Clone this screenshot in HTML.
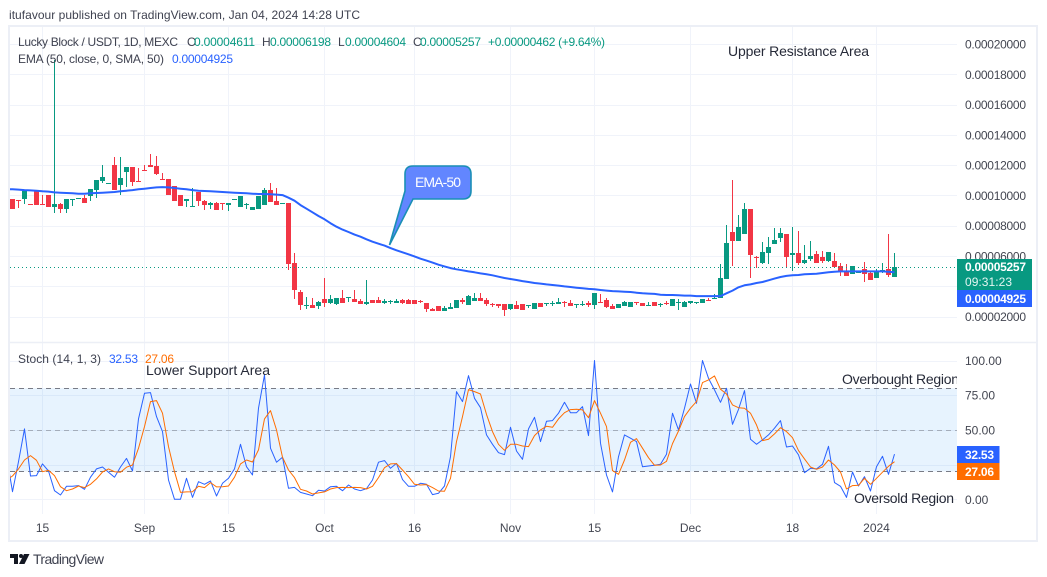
<!DOCTYPE html>
<html lang="en">
<head>
<meta charset="utf-8">
<title>Lucky Block / USDT chart</title>
<style>
html,body{margin:0;padding:0;background:#fff;width:1047px;height:577px;overflow:hidden}
svg{display:block;font-family:"Liberation Sans",sans-serif}
</style>
</head>
<body>
<svg id="chart" xmlns="http://www.w3.org/2000/svg" width="1047" height="577" viewBox="0 0 1047 577">
  <defs>
    <clipPath id="clip-main"><rect x="10" y="27" width="947" height="315"/></clipPath>
    <clipPath id="clip-stoch"><rect x="10" y="343" width="947" height="171"/></clipPath>
  </defs>
  <rect x="0" y="0" width="1047" height="577" fill="#ffffff"/>
  <text x="9" y="19" font-size="12" fill="#3f4250" textLength="351">itufavour published on TradingView.com, Jan 04, 2024 14:28 UTC</text>
  <g id="grid"></g>
  <g id="stoch-band"></g>
  <g id="candles" clip-path="url(#clip-main)"></g>
  <g id="ema" clip-path="url(#clip-main)"></g>
  <g id="stoch-lines" clip-path="url(#clip-stoch)"></g>
  <rect x="9" y="26" width="1028" height="515" fill="none" stroke="#eceff6" stroke-width="2"/>
  <line x1="9" y1="342.5" x2="1037" y2="342.5" stroke="#eceff6" stroke-width="1.5"/>

  <g font-size="12">
    <text x="18" y="46" fill="#3f4250" textLength="160">Lucky Block / USDT, 1D, MEXC</text>
    <text x="187" y="46" fill="#3f4250">O</text>
    <text x="194" y="46" fill="#089981" textLength="61">0.00004611</text>
    <text x="262" y="46" fill="#3f4250">H</text>
    <text x="270" y="46" fill="#089981" textLength="61">0.00006198</text>
    <text x="338" y="46" fill="#3f4250">L</text>
    <text x="345" y="46" fill="#089981" textLength="61">0.00004604</text>
    <text x="413" y="46" fill="#3f4250">C</text>
    <text x="420" y="46" fill="#089981" textLength="61">0.00005257</text>
    <text x="488" y="46" fill="#089981" textLength="117">+0.00000462 (+9.64%)</text>
    <text x="18" y="63" fill="#3f4250" textLength="146">EMA (50, close, 0, SMA, 50)</text>
    <text x="172" y="63" fill="#2962ff" textLength="61">0.00004925</text>
  </g>

  <text x="728" y="56" font-size="14" fill="#262a38" textLength="141">Upper Resistance Area</text>
  <g>
    <path d="M413 166 H463 Q471 166 471 174 V191 Q471 199 463 199 H413 L389.5 245 L405 191 V174 Q405 166 413 166 Z" fill="#6286ff" stroke="#1a8fb5" stroke-width="1.6"/>
    <text x="415" y="187" font-size="14" fill="#ffffff" textLength="46">EMA-50</text>
  </g>

  <g font-size="12">
    <text x="18" y="363" fill="#3f4250" textLength="83">Stoch (14, 1, 3)</text>
    <text x="109" y="363" fill="#2962ff" textLength="29">32.53</text>
    <text x="145" y="363" fill="#ff6d00" textLength="29">27.06</text>
  </g>
  <text x="146" y="375" font-size="14" fill="#262a38" textLength="124">Lower Support Area</text>
  <g clip-path="url(#clip-stoch)">
    <text x="842" y="384" font-size="14" fill="#262a38" textLength="117">Overbought Region</text>
  </g>
  <text x="854" y="503" font-size="14" fill="#262a38" textLength="100">Oversold Region</text>

  <g id="price-axis" font-size="12" fill="#434651"></g>
  <g id="stoch-axis" font-size="12" fill="#434651"></g>
  <g id="time-axis" font-size="12" fill="#434651"></g>

  <g>
    <rect x="957" y="259" width="75" height="31" fill="#089981"/>
    <text x="965" y="271" font-size="12" font-weight="bold" fill="#ffffff" textLength="61">0.00005257</text>
    <text x="965" y="286" font-size="12" fill="#e4f5f1" textLength="47">09:31:23</text>
    <rect x="957" y="290" width="75" height="17" fill="#2962ff"/>
    <text x="965" y="303" font-size="12" font-weight="bold" fill="#ffffff" textLength="61">0.00004925</text>
  </g>
  <g>
    <rect x="957" y="446" width="42.5" height="17" fill="#2962ff"/>
    <text x="965" y="459" font-size="12" font-weight="bold" fill="#ffffff" textLength="29">32.53</text>
    <rect x="957" y="463" width="42.5" height="17" fill="#ff6d00"/>
    <text x="965" y="476" font-size="12" font-weight="bold" fill="#ffffff" textLength="29">27.06</text>
  </g>

  <g>
    <path d="M10 554 H18 V564 H14 V558 H10 Z M19 564 L24 554 H29.5 L24.5 564 Z" fill="#131722"/>
    <circle cx="21" cy="556" r="2" fill="#131722"/>
    <text x="33" y="564" font-size="14" fill="#3f4250" textLength="71">TradingView</text>
  </g>
</svg>
<script>
// All prices in units of 0.00001 USDT. Index 0 = 10 Aug 2023.
const opens = [
9.76,9.67,9.76,9.43,10.29,9.43,10.02,9.23,9.43,9.10,
9.69,9.76,9.83,9.96,10.35,10.95,10.77,12.01,10.69,11.54,
11.87,10.95,11.68,12.01,11.94,11.08,11.08,10.62,10.02,9.63,
9.23,10.22,9.63,9.36,9.50,9.50,9.36,9.69,9.23,9.36,
9.03,9.10,9.36,10.35,9.63,9.43,9.50,5.53,3.62,2.69,
2.76,2.69,3.16,2.89,2.83,3.22,3.22,3.16,3.02,2.83,
3.09,3.09,2.89,2.96,2.89,3.09,3.09,3.09,3.02,2.89,
2.50,2.69,2.36,2.50,2.56,3.09,2.76,3.02,3.22,3.09,
2.83,2.83,2.83,2.50,2.76,2.83,2.69,2.50,2.89,2.83,
2.83,2.83,2.96,2.89,2.76,2.76,2.89,2.76,2.96,3.09,
2.69,2.56,2.69,2.63,2.96,2.89,2.69,2.96,2.76,2.89,
2.69,2.89,2.63,2.89,2.89,2.89,3.09,3.15,3.22,4.48,
7.58,6.99,7.45,9.10,5.93,5.53,6.19,6.79,7.19,7.45,
6.06,6.19,5.53,5.80,6.13,5.93,5.67,5.67,5.34,5.00,
4.81,4.87,5.14,4.87,4.54,5.00,5.14,4.611];
const highs = [
9.76,9.67,10.29,9.43,10.29,10.02,10.02,18.94,9.50,9.76,
9.76,9.83,10.02,10.42,11.02,12.01,10.82,12.53,12.53,11.87,
11.87,11.81,12.01,12.73,12.60,11.48,11.08,10.62,10.02,9.76,
10.49,10.22,9.69,9.56,9.56,9.50,9.50,9.76,9.96,9.50,
9.23,9.96,10.49,10.82,10.49,9.50,9.50,6.19,3.75,3.29,
3.22,3.03,4.54,3.42,3.22,3.75,3.29,3.75,3.16,4.41,
3.09,3.29,3.16,3.09,3.16,3.16,3.16,3.09,3.09,2.89,
2.56,2.69,2.69,2.89,3.09,3.22,3.42,3.55,3.55,3.22,
2.89,2.83,2.83,2.83,3.02,2.83,2.76,2.89,2.89,2.89,
3.02,3.22,3.02,3.09,2.83,3.02,3.02,3.55,3.49,3.22,
2.83,2.83,3.02,2.96,2.96,2.89,2.96,2.96,2.89,3.02,
3.15,3.15,3.02,3.02,2.96,3.15,3.22,3.48,5.47,8.04,
11.02,8.70,9.50,9.10,5.99,6.92,7.25,7.85,7.85,7.45,
7.91,7.65,6.72,7.00,6.33,6.33,6.26,6.19,5.53,5.47,
5.34,5.00,5.60,5.00,5.14,5.53,7.45,6.198];
const lows = [
9.12,9.19,9.45,9.36,9.36,9.36,9.23,8.84,8.84,8.84,
9.30,9.76,9.50,9.63,9.83,10.82,10.77,10.35,10.02,10.55,
10.62,10.88,11.61,11.87,11.35,11.02,10.02,9.63,9.30,9.23,
9.23,9.30,9.03,9.10,9.03,9.03,8.97,9.69,9.23,9.10,
9.03,9.10,9.36,9.56,9.36,9.43,5.07,3.16,2.43,2.49,
2.56,2.49,2.63,2.83,2.76,2.89,2.96,2.96,2.83,2.76,
2.89,2.89,2.83,2.83,2.89,2.83,2.83,2.83,2.89,2.30,
2.36,2.36,2.36,2.50,2.56,2.83,2.76,3.02,3.02,2.69,
2.63,2.56,2.03,2.43,2.50,2.43,2.56,2.50,2.63,2.69,
2.69,2.83,2.63,2.69,2.56,2.69,2.63,2.50,2.89,2.56,
2.50,2.56,2.69,2.63,2.76,2.69,2.69,2.69,2.63,2.76,
2.69,2.43,2.63,2.83,2.83,2.89,3.02,3.15,3.22,4.48,
5.34,6.99,7.45,4.54,5.20,5.47,5.47,6.79,6.92,5.20,
5.00,5.40,5.47,5.67,5.53,5.53,5.60,5.20,4.68,4.68,
4.81,4.87,4.28,4.41,4.54,4.87,4.61,4.604];
const closes = [
9.12,9.63,10.29,9.36,9.36,9.36,9.23,9.43,9.10,9.76,
9.76,9.83,9.50,10.42,11.02,11.21,10.82,10.35,11.15,11.87,
10.88,10.88,11.61,11.87,11.41,11.02,10.02,9.63,9.30,9.76,
9.30,9.63,9.36,9.50,9.03,9.43,9.50,9.76,9.96,9.43,
9.23,9.96,10.35,9.56,9.36,9.50,5.47,3.75,2.76,2.76,
2.56,2.96,2.89,3.16,3.22,2.89,3.29,2.96,2.83,2.96,
2.89,2.89,3.02,3.02,3.02,2.89,2.83,2.83,2.96,2.50,
2.36,2.36,2.56,2.63,3.09,2.96,3.36,3.22,3.02,2.83,
2.76,2.69,2.43,2.83,2.50,2.43,2.76,2.89,2.63,2.89,
2.89,2.96,2.89,2.69,2.83,2.83,2.76,3.55,2.89,2.63,
2.50,2.83,2.96,2.96,2.89,2.69,2.76,2.69,2.83,2.83,
3.15,2.96,2.96,3.02,2.96,3.15,3.02,3.22,4.54,6.85,
6.99,7.91,9.10,6.06,5.86,6.26,6.59,7.05,7.52,5.93,
6.19,5.53,5.73,5.99,5.53,5.67,6.26,5.27,5.00,4.68,
5.34,5.00,4.81,4.41,5.00,5.07,4.74,5.257];
// Line series carry one leading value: the day just before the visible window.
const emaValues = [10.41,
10.40,10.38,10.35,10.33,10.31,10.27,10.25,10.20,10.18,10.16,
10.14,10.11,10.11,10.14,10.16,10.18,10.20,10.22,10.27,10.31,
10.35,10.40,10.44,10.49,10.53,10.55,10.53,10.49,10.44,10.40,
10.35,10.31,10.29,10.27,10.25,10.22,10.20,10.18,10.16,10.14,
10.11,10.09,10.09,10.07,10.05,10.02,9.85,9.65,9.36,9.12,
8.88,8.64,8.42,8.16,7.93,7.74,7.58,7.41,7.27,7.10,
6.94,6.81,6.68,6.52,6.37,6.24,6.11,5.97,5.82,5.69,
5.56,5.42,5.31,5.20,5.12,5.05,4.98,4.92,4.85,4.79,
4.72,4.63,4.54,4.48,4.41,4.34,4.28,4.21,4.17,4.12,
4.08,4.04,3.99,3.95,3.90,3.86,3.82,3.80,3.75,3.71,
3.68,3.66,3.64,3.62,3.57,3.53,3.51,3.49,3.44,3.42,
3.42,3.40,3.38,3.38,3.35,3.35,3.35,3.35,3.35,3.53,
3.71,3.93,4.06,4.12,4.21,4.28,4.39,4.50,4.61,4.68,
4.72,4.74,4.79,4.81,4.83,4.87,4.92,4.96,4.98,4.98,
4.98,4.98,4.98,4.98,4.98,4.98,4.96,4.925];
const stochK = [31.5,
5.5,27.1,50.7,16.8,17.1,25.5,20.4,6.2,3.1,9.4,
9.4,9.9,7.2,15.9,21.9,23.3,19.5,15.9,23.3,29.5,
20.4,57.9,76.4,76.9,59.6,48.8,13.9,0,0,15.1,
1.4,12.7,10.8,13.2,2.4,11.5,15.1,21.9,39.6,23.5,
17.5,65.6,89.6,36.8,26.7,30.3,7.9,8.6,5.0,3.8,
2.6,6.5,6.0,9.1,9.4,6.2,10.3,7.4,6.2,7.7,
13.9,26.7,27.9,22.3,25.9,14.2,9.4,9.4,11.5,10.8,
3.4,4.3,9.6,30.7,77.6,70.4,89.1,72.8,66.0,46.4,
39.6,33.6,32.2,51.9,34.8,28.8,50.7,59.1,41.6,56.2,
56.7,62.0,69.9,62.4,62.4,66.8,45.9,100,40.4,17.5,
5.3,30.7,46.4,44.0,41.6,23.5,24.0,24.5,25.2,32.4,
62.0,50.0,65.6,83.1,69.2,100,87.2,78.8,69.9,80.0,
54.0,64.8,78.3,43.2,39.6,42.8,46.4,51.2,56.7,37.7,
38.4,32.0,19.2,22.3,21.9,25.2,38.2,12.0,9.4,1.4,
19.7,9.6,16.3,6.0,23.5,31.0,18.0,32.53];
const stochD = [13.9,
16.8,21.9,28.3,31.5,28.1,19.9,20.9,17.1,9.1,6.2,
7.4,9.6,8.4,10.8,14.7,19.7,21.9,19.9,19.5,23.1,
24.7,36.8,52.4,70.4,71.1,62.0,38.0,19.9,5.0,5.3,
5.5,9.4,8.4,12.0,8.9,9.1,9.6,15.9,25.5,28.3,
26.9,35.6,57.9,63.9,50.0,30.3,21.1,15.6,7.2,6.0,
3.8,4.6,5.3,7.4,8.4,8.6,8.4,8.6,8.4,7.4,
9.4,15.6,22.8,25.5,25.7,21.1,16.3,10.8,10.3,10.6,
8.4,6.0,5.8,15.1,41.6,59.6,79.0,77.6,75.9,61.2,
48.8,39.6,35.3,39.6,39.6,38.4,38.0,45.9,50.0,52.6,
51.9,57.9,62.4,64.6,64.9,64.4,58.8,71.1,62.0,52.4,
20.7,18.0,28.3,41.1,43.7,36.8,30.0,24.5,24.7,27.4,
40.1,49.2,59.6,65.6,70.4,84.1,86.0,88.9,79.3,75.9,
68.0,66.0,65.6,62.0,53.6,42.3,43.2,47.1,51.6,48.8,
44.4,35.1,29.1,23.3,21.6,23.3,28.3,24.7,19.7,7.4,
9.9,10.1,15.1,10.8,15.1,19.5,23.8,27.06];
const priceTicks = [20,18,16,14,12,10,8,6,4,2];
const priceTickLabels = ["0.00020000","0.00018000","0.00016000","0.00014000","0.00012000","0.00010000","0.00008000","0.00006000","0.00004000","0.00002000"];
const stochGridValues = [100,75,50,25,0];
const stochTickValues = [100,75,50,0];
const stochTickLabels = ["100.00","75.00","50.00","0.00"];
const stochBandLevels = [80,50,20];
const timeTickDays = [5,22,36,52,67,83,97,113,130,144];
const timeTickLabels = ["15","Sep","15","Oct","16","Nov","15","Dec","18","2024"];
const lastClose = 5.257;

const NS = "http://www.w3.org/2000/svg";
const xDay = function (i) { return 12.5 + 6 * i; };
const yPrice = function (p) { return 316.5 - (p - 2) * 15.14; };
const yStoch = function (v) { return 499.3 - v * 1.388; };
const PLOT_L = 10, PLOT_R = 957;

function mk(tag, attrs, parent) {
  const el = document.createElementNS(NS, tag);
  for (const k in attrs) el.setAttribute(k, attrs[k]);
  parent.appendChild(el);
  return el;
}
const gridG = document.getElementById("grid");
priceTicks.forEach(function (p) {
  const y = Math.round(yPrice(p)) + 0.5;
  const el = mk("line", {x1: PLOT_L, x2: PLOT_R, y1: y, y2: y, stroke: "#f0f3fa"}, gridG);
  
  
});
stochGridValues.forEach(function (v) {
  const y = Math.round(yStoch(v)) + 0.5;
  const el = mk("line", {x1: PLOT_L, x2: PLOT_R, y1: y, y2: y, stroke: "#f0f3fa"}, gridG);
  
  
});
timeTickDays.forEach(function (d) {
  const x = Math.floor(xDay(d)) + 0.5;
  const el = mk("line", {x1: x, x2: x, y1: 27, y2: 514, stroke: "#f0f3fa"}, gridG);
  
  
});

const bandG = document.getElementById("stoch-band");
const bandTop = yStoch(stochBandLevels[0]);
const bandBottom = yStoch(stochBandLevels[2]);
const bandRect = mk("rect", {x: PLOT_L, y: bandTop, width: PLOT_R - PLOT_L, height: bandBottom - bandTop, fill: "#2196f3", "fill-opacity": 0.11}, bandG);


stochBandLevels.forEach(function (v, i) {
  const y = Math.round(yStoch(v) - 0.2) + 0.5;
  const el = mk("line", {x1: PLOT_L, x2: PLOT_R, y1: y, y2: y, stroke: "#787b86", "stroke-dasharray": "5 4", "stroke-opacity": i === 1 ? 0.55 : 1}, bandG);
  
  
});

const candleG = document.getElementById("candles");
opens.forEach(function (o, i) {
  const c = closes[i];
  const up = c >= o;
  const color = up ? "#089981" : "#f23645";
  const x = xDay(i);
  const yTop = Math.round(yPrice(Math.max(o, c)));
  const yBot = Math.max(Math.round(yPrice(Math.min(o, c))), yTop + 1);
  const yHigh = Math.round(yPrice(highs[i]));
  const yLow = Math.round(yPrice(lows[i]));
  const wick = mk("rect", {x: x - 0.5, y: Math.min(yHigh, yTop), width: 1, height: Math.max(yLow, yBot) - Math.min(yHigh, yTop), fill: color}, candleG);
  
  
  const body = mk("rect", {x: x - 2.5, y: yTop, width: 5, height: yBot - yTop, fill: color}, candleG);
  
  
});

const emaG = document.getElementById("ema");
const lastY = Math.round(yPrice(lastClose)) + 0.5;
const lastLine = mk("line", {x1: PLOT_L, x2: PLOT_R, y1: lastY, y2: lastY, stroke: "#089981", "stroke-dasharray": "1 3"}, emaG);



function linePath(values, yFn) {
  return values.map(function (v, i) {
    return (i ? "L" : "M") + xDay(i - 1).toFixed(1) + " " + yFn(v).toFixed(1);
  }).join(" ");
}
const emaPath = mk("path", {d: linePath(emaValues, yPrice), fill: "none", stroke: "#2962ff", "stroke-width": 2, "stroke-linejoin": "round"}, emaG);



const stochG = document.getElementById("stoch-lines");
const kPath = mk("path", {d: linePath(stochK, yStoch), fill: "none", stroke: "#2962ff", "stroke-width": 1, "stroke-linejoin": "round"}, stochG);


const dPath = mk("path", {d: linePath(stochD, yStoch), fill: "none", stroke: "#ff6d00", "stroke-width": 1, "stroke-linejoin": "round"}, stochG);



const priceAxis = document.getElementById("price-axis");
priceTicks.forEach(function (p, i) {
  const el = mk("text", {x: 965, y: yPrice(p) + 4.5, textLength: 61}, priceAxis);
  
  
  el.textContent = priceTickLabels[i];
});
const stochAxis = document.getElementById("stoch-axis");
stochTickValues.forEach(function (v, i) {
  const el = mk("text", {x: 965, y: yStoch(v) + 4.5}, stochAxis);
  
  
  el.textContent = stochTickLabels[i];
});
const timeAxis = document.getElementById("time-axis");
timeTickDays.forEach(function (d, i) {
  const el = mk("text", {x: xDay(d), y: 532, "text-anchor": "middle"}, timeAxis);
  
  
  el.textContent = timeTickLabels[i];
});
</script>
</body>
</html>
